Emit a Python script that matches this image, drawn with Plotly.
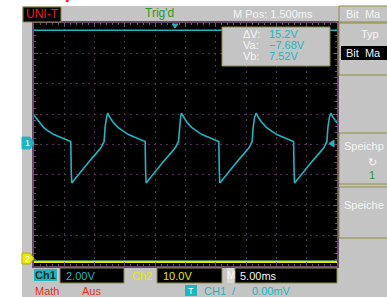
import plotly.graph_objects as go

# ---------------- data (time in ms, voltage in V on CH1 scale 2V/div) ----------------
ch1_t = [0.00, 0.73, 1.57, 2.40, 3.23, 4.07, 4.90, 5.73, 6.07, 6.15, 6.23, 6.90, 7.90, 9.07, 10.23, 11.07, 11.57, 11.73, 11.98,
         12.17, 12.50, 13.00, 13.84, 14.67, 15.50, 16.34, 17.17, 18.00, 18.34, 18.42, 18.50, 19.17, 20.17, 21.34, 22.50, 23.34, 23.84, 24.00, 24.20,
         24.33, 24.66, 25.16, 26.00, 26.83, 27.66, 28.50, 29.33, 30.16, 30.50, 30.58, 30.66, 31.33, 32.33, 33.50, 34.66, 35.50, 36.00, 36.16, 36.41,
         36.67, 37.00, 37.50, 38.34, 39.17, 40.00, 40.84, 41.67, 42.50, 42.84, 42.92, 43.00, 43.67, 44.67, 45.84, 47.00, 47.84, 48.34, 48.50, 48.75,
         49.00, 49.33, 49.83, 50.00]
ch1_v = [1.93, 1.53, 1.13, 0.87, 0.67, 0.53, 0.40, 0.27, 0.20, -1.80, -2.53, -2.20, -1.67, -1.13, -0.60, -0.20, 0.20, 1.13, 1.80,
         2.07, 1.80, 1.50, 1.13, 0.87, 0.67, 0.53, 0.40, 0.27, 0.20, -1.80, -2.53, -2.20, -1.67, -1.13, -0.60, -0.20, 0.20, 1.13, 1.80,
         2.07, 1.80, 1.50, 1.13, 0.87, 0.67, 0.53, 0.40, 0.27, 0.20, -1.80, -2.53, -2.20, -1.67, -1.13, -0.60, -0.20, 0.20, 1.13, 1.80,
         2.07, 1.80, 1.50, 1.13, 0.87, 0.67, 0.53, 0.40, 0.27, 0.20, -1.80, -2.53, -2.20, -1.67, -1.13, -0.60, -0.20, 0.20, 1.13, 1.80,
         2.07, 1.80, 1.50, 1.42]
ch2_t = [0.0, 50.0]
ch2_v = [-7.73, -7.73]
cursor_va = -7.68
cursor_vb = 7.52
meas_labels = ["ΔV:", "Va:", "Vb:"]
meas_values = ["15.2V", "−7.68V", "7.52V"]

# ---------------- geometry helpers (pixels -> paper) ----------------
W, H = 387, 297
L, T, R, B = 34, 23, 337, 266
PW, PH = R - L, B - T


def px(x):
    return (x - L) / PW


def py(y):
    return 1 - (y - T) / PH


GREY = "#c4c4c4"
OLIVE = "#8e8e3e"
CYAN = "#1db6c0"
YEL = "#e8e800"
FONT = "Liberation Sans"

shapes = []
annos = []


def rect(x0, y0, x1, y1, fill, line=None, lw=1, layer="above"):
    shapes.append(dict(type="rect", xref="paper", yref="paper", x0=px(x0), x1=px(x1), y0=py(y1), y1=py(y0),
                       fillcolor=fill, line=dict(color=line or fill, width=lw if line else 0), layer=layer))


def text(x, y, s, color, size=11, anchor="left", family=FONT):
    annos.append(dict(xref="paper", yref="paper", x=px(x), y=py(y), text=s, showarrow=False,
                      xanchor=anchor, yanchor="middle", font=dict(color=color, size=size, family=family)))


def path(pts, fill, line=None):
    d = "M " + " L ".join(f"{px(a)},{py(b)}" for a, b in pts) + " Z"
    shapes.append(dict(type="path", xref="paper", yref="paper", path=d, fillcolor=fill,
                       line=dict(color=line or fill, width=1), layer="above"))


# white page margins
rect(0, 0, 22, H, "white", layer="below")
rect(0, 0, W, 6, "white", layer="below")
annos.append(dict(xref="paper", yref="paper", x=px(28), y=py(6), text="<b>Graph 3</b>", showarrow=False,
                  xanchor="left", yanchor="bottom", yshift=2,
                  font=dict(color="#ff2020", size=20, family=FONT)))

# top bar
rect(23, 7, 61, 22, "black", OLIVE, 1)
text(42, 14.5, "UNI-T", "#e82020", 12, "center")
text(159, 13, "Trig'd", "#2a9a2a", 12, "center")
text(273, 14, "M Pos: 1.500ms", "#f4f4f4", 11, "center")

# right menu
rect(339, 6, 392, 22, GREY, OLIVE, 1)
text(344, 14, "Bit  Ma", "#f4f4f4", 11)
rect(339, 23, 392, 75, GREY, OLIVE, 1)
text(370, 34, "Typ", "#f4f4f4", 11, "center")
rect(341, 46, 392, 60, "black")
text(344, 53, "Bit  Ma", "#f4f4f4", 11)
rect(339, 133, 392, 184, GREY, OLIVE, 1)
text(342, 146, "Speichp", "#f4f4f4", 11)
text(372, 162, "↻", "#f4f4f4", 11, "center")
text(372, 175, "1", "#2a9a2a", 11, "center")
rect(339, 187, 392, 238, GREY, OLIVE, 1)
text(342, 205, "Speiche", "#f4f4f4", 11)

# measurement box
rect(222, 27, 330, 66, GREY, OLIVE, 1)
for i, (lab, val) in enumerate(zip(meas_labels, meas_values)):
    yy = 34.5 + i * 11
    text(241, yy, lab, "#f4f4f4", 11)
    text(267, yy, val, CYAN, 11)

# channel markers
path([(22, 137), (30, 137), (34, 143), (30, 149), (22, 149)], CYAN)
text(27, 143, "1", "white", 9, "center")
path([(22, 253), (30, 253), (34, 258.5), (30, 264), (22, 264)], YEL, "#b0b000")
text(27, 258.5, "2", "white", 9, "center")
# trigger position marker / trigger level arrow
path([(172, 24), (178, 24), (175, 28)], CYAN)
path([(329, 143.5), (334, 140), (334, 147)], CYAN)

# bottom bar
rect(34, 269, 57, 281, CYAN)
text(45.5, 275, "<b>Ch1</b>", "#0a2a2a", 11, "center")
rect(60, 268, 124, 283, "black", OLIVE, 1)
text(64, 275.5, "2.00V", CYAN, 11)
text(130, 275.5, "Ch2", YEL, 11)
rect(157, 268, 222, 283, "black", OLIVE, 1)
text(161, 275.5, "10.0V", YEL, 11)
rect(227, 268, 235, 283, "#d8d8d8")
text(231, 275.5, "M", "#f8f8f8", 10, "center")
rect(235, 268, 337, 283, "black", OLIVE, 1)
text(238, 275.5, "5.00ms", "#f4f4f4", 11)
text(33, 290.5, "Math", "#e83020", 11)
text(80, 290.5, "Aus", "#e83020", 11)
rect(185, 285, 197, 296, CYAN)
text(191, 290.5, "T", "white", 9, "center")
text(202, 290.5, "CH1", CYAN, 11)
text(234, 290.5, "/", CYAN, 11, "center")
text(250, 290.5, "0.00mV", CYAN, 11)

fig = go.Figure()
fig.add_trace(go.Scatter(x=[0, 50], y=[cursor_vb, cursor_vb], mode="lines",
                         line=dict(color=CYAN, width=1.5), hoverinfo="skip"))
fig.add_trace(go.Scatter(x=[0, 50], y=[cursor_va, cursor_va], mode="lines",
                         line=dict(color=CYAN, width=1.5), hoverinfo="skip"))
fig.add_trace(go.Scatter(x=ch2_t, y=ch2_v, mode="lines", line=dict(color=YEL, width=2.2)))
fig.add_trace(go.Scatter(x=ch1_t, y=ch1_v, mode="lines", line=dict(color=CYAN, width=1.6)))

axis_common = dict(showline=True, linecolor="#6a4a6a", linewidth=1.5, mirror="allticks",
                   ticks="inside", ticklen=4, tickcolor="#6a4a6a", tickwidth=1,
                   showticklabels=False, showgrid=True, gridcolor="#503050", griddash="2px,4px",
                   gridwidth=1, zeroline=False, fixedrange=True)
fig.update_xaxes(range=[0, 50], dtick=5, minor=dict(dtick=1, ticks="inside", ticklen=2, tickcolor="#6a4a6a"),
                 **axis_common)
fig.update_yaxes(range=[-8, 8], dtick=2, minor=dict(dtick=0.4, ticks="inside", ticklen=2, tickcolor="#6a4a6a"),
                 **axis_common)

fig.update_layout(width=W, height=H, margin=dict(l=L, r=W - R, t=T, b=H - B, pad=0),
                  paper_bgcolor=GREY, plot_bgcolor="black", showlegend=False,
                  shapes=shapes, annotations=annos, font=dict(family=FONT))
fig.write_html("out.html", config={"displayModeBar": False},
               post_script="document.body.style.margin='0';document.body.style.overflow='hidden';")
